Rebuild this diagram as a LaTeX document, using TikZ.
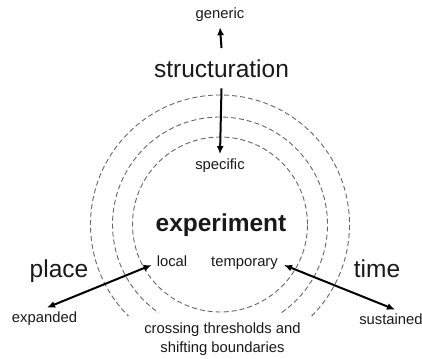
\documentclass[tikz,border=0pt]{standalone}
\usepackage{fontspec}
\setmainfont{Liberation Sans}
\usetikzlibrary{arrows.meta}
\begin{document}
\begin{tikzpicture}[x=1pt,y=1pt,
 small/.style={font=\fontsize{14.8}{19}\selectfont, text=black!90, inner sep=0pt, anchor=base},
 big/.style={font=\fontsize{24.5}{29}\selectfont, text=black!90, inner sep=0pt, anchor=base},
 ring/.style={draw=black!60, line width=0.9pt, dash pattern=on 5pt off 3pt},
 tipa/.tip={Latex[length=8pt,width=7pt]},
 arr/.style={line width=2pt, -tipa},
 darr/.style={line width=2pt, tipa-tipa}]
\useasboundingbox (0,0) rectangle (422,358);
\coordinate (c) at (220,133.5);
\draw[ring] (c) circle[radius=87.5];
\draw[ring] ([shift={(-55:107.5)}]c) arc[start angle=-55,end angle=235,radius=107.5];
\draw[ring] ([shift={(-45:129.5)}]c) arc[start angle=-45,end angle=225,radius=129.5];

\node[small] (generic) at (220,339) {generic};
\node[big] (structuration) at (221.5,280) {structuration};
\node[small] (specific) at (220,188) {specific};
\node[big, font=\fontsize{24.5}{29}\selectfont\bfseries] (experiment) at (221,126) {experiment};
\node[big] (place) at (59,80) {place};
\node[big] (time) at (377,80) {time};
\node[small] (local) at (172,91) {local};
\node[small] (temporary) at (244.5,91) {temporary};
\node[small] (expanded) at (44.5,35) {expanded};
\node[small] (sustained) at (391,34) {sustained};
\node[small, anchor=north, align=center] (crossing) at (222.5,35.8) {crossing thresholds and\\shifting boundaries};

\draw[arr] ([yshift=12pt]structuration.north) -- ([yshift=-5pt]generic.south);
\draw[arr] ([yshift=-10pt]structuration.south) -- ([yshift=5pt]specific.north);
\draw[darr] ([shift={(2.5,4.5)}]expanded.north) -- ([shift={(-5,2)}]local.base west);
\draw[darr] ([shift={(6,2)}]temporary.base east) -- ([shift={(4,3.5)}]sustained.north);
\end{tikzpicture}
\end{document}
